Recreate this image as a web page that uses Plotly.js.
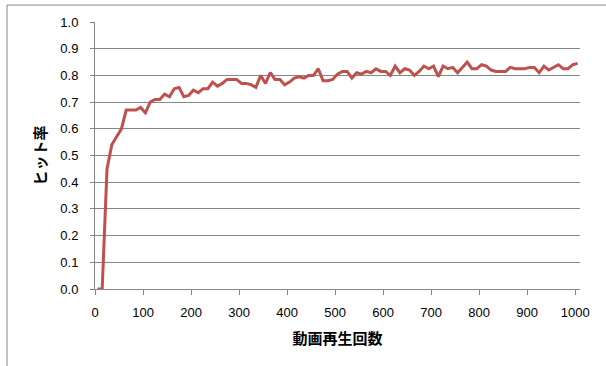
<!DOCTYPE html>
<html><head><meta charset="utf-8">
<script src="https://cdn.plot.ly/plotly-3.0.1.min.js"></script>
<style>html,body{margin:0;padding:0;overflow:hidden;background:#fff}#chart{width:606px;height:366px}</style>
</head><body><div id="chart"></div>
<script>
const plays = [];
for (let i = 0; i < 101; i++) plays.push(5 + 10 * i);
const hitRate = [
 0.0, 0.0, 0.45, 0.54, 0.57, 0.60, 0.67, 0.67, 0.67, 0.68,
 0.66, 0.70, 0.71, 0.71, 0.73, 0.72, 0.75, 0.755, 0.72, 0.725,
 0.745, 0.735, 0.75, 0.75, 0.775, 0.76, 0.77, 0.785, 0.785, 0.785,
 0.77, 0.77, 0.765, 0.755, 0.80, 0.77, 0.81, 0.785, 0.785, 0.765,
 0.775, 0.79, 0.795, 0.79, 0.80, 0.80, 0.825, 0.78, 0.78, 0.785,
 0.805, 0.815, 0.815, 0.79, 0.81, 0.805, 0.815, 0.81, 0.825, 0.815,
 0.815, 0.80, 0.835, 0.81, 0.825, 0.82, 0.80, 0.815, 0.835, 0.825,
 0.835, 0.795, 0.835, 0.825, 0.83, 0.81, 0.83, 0.85, 0.825, 0.825,
 0.84, 0.835, 0.82, 0.815, 0.815, 0.815, 0.83, 0.825, 0.825, 0.825,
 0.83, 0.83, 0.81, 0.835, 0.82, 0.83, 0.84, 0.825, 0.825, 0.84,
 0.845
];
const xTitle = '動画再生回数';
const yTitle = 'ヒット率';

const trace = {
  x: plays, y: hitRate, type: 'scatter', mode: 'lines',
  line: {color: '#C0504D', width: 3}, hoverinfo: 'skip'
};
const tickFont = {family: 'Liberation Sans, Arial, sans-serif', size: 13, color: '#000'};
const titleFont = {family: 'Noto Sans CJK JP, sans-serif', size: 15, color: '#000', weight: 'bold'};
const layout = {
  width: 606, height: 366,
  margin: {l: 95, r: 26, t: 22, b: 76.5, pad: 0},
  paper_bgcolor: '#fff', plot_bgcolor: '#fff',
  showlegend: false,
  xaxis: {
    range: [0, 1010], tick0: 0, dtick: 100, showgrid: false, zeroline: false,
    showline: true, linecolor: '#868686', linewidth: 1,
    ticks: 'outside', ticklen: 5, tickcolor: '#868686',
    tickfont: tickFont, ticklabelstandoff: 6,
    title: {text: xTitle, font: titleFont, standoff: 14}
  },
  yaxis: {
    range: [0, 1], tick0: 0, dtick: 0.1, tickformat: '.1f',
    showgrid: true, gridcolor: '#868686', gridwidth: 1, zeroline: false,
    showline: true, linecolor: '#868686', linewidth: 1,
    ticks: 'outside', ticklen: 4, tickcolor: '#868686',
    tickfont: tickFont, ticklabelstandoff: 9,
    title: {text: yTitle, font: titleFont, standoff: 10}
  },
  shapes: [{
    type: 'rect', xref: 'paper', yref: 'paper', layer: 'below',
    x0: (7 - 95) / 485, x1: 2, y0: -2, y1: (289.5 - 5) / 267.5,
    line: {color: '#878787', width: 1}, fillcolor: 'rgba(0,0,0,0)'
  }]
};
Plotly.newPlot('chart', [trace], layout, {staticPlot: true, displayModeBar: false});
</script></body></html>
